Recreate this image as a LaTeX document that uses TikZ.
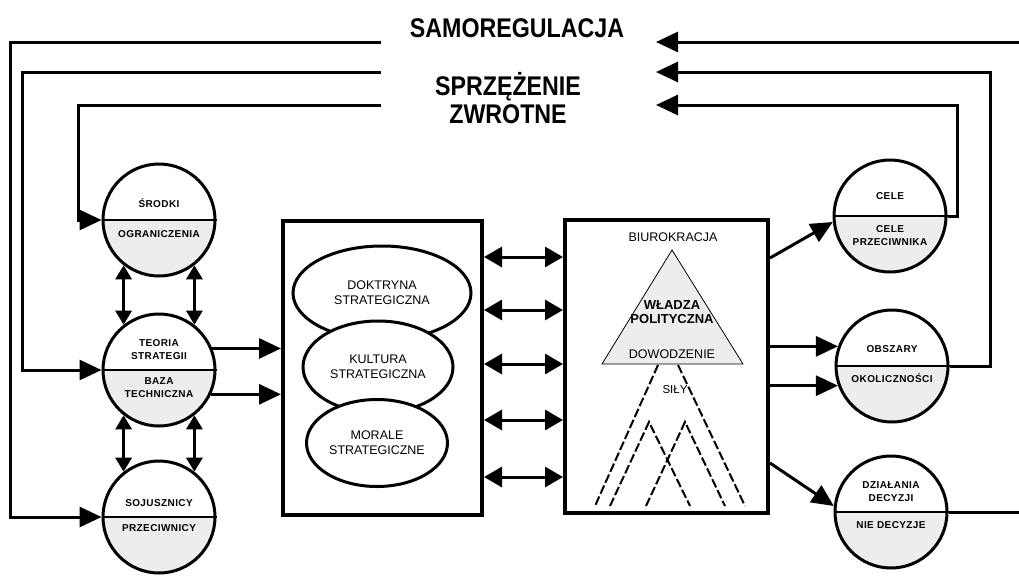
\documentclass[tikz,border=0pt]{standalone}
\usepackage{fontspec}
\setmainfont{Liberation Sans}
\newfontfamily\titlefont[FakeStretch=0.86]{Liberation Sans}
\newfontfamily\circfont[LetterSpace=4]{Liberation Sans}
\usetikzlibrary{arrows.meta,shapes.geometric,calc}
\begin{document}
\begin{tikzpicture}[x=1pt,y=-1pt,
  fbline/.style={line width=3pt},
  arr/.style={line width=3pt,-{Triangle[length=22pt,width=20pt]}},
  dbl/.style={line width=3pt,{Triangle[length=18pt,width=20pt]}-{Triangle[length=18pt,width=20pt]}},
  vdbl/.style={line width=3pt,{Triangle[length=14pt,width=16pt]}-{Triangle[length=14pt,width=16pt]}},
  circ/.style={circle,draw,line width=3pt,minimum size=112pt,inner sep=0pt},
  clabel/.style={font=\circfont\bfseries\fontsize{10}{13}\selectfont,align=center,inner sep=0pt},
  title/.style={font=\titlefont\bfseries\fontsize{27}{28}\selectfont,align=center,inner sep=0pt},
  bigbox/.style={draw,line width=4pt,inner sep=0pt},
  ell/.style={ellipse,draw,line width=3pt,fill=white,inner sep=0pt,align=center,font=\fontsize{12.5}{15}\selectfont},
  dsh/.style={line width=2pt,dash pattern=on 9pt off 3pt},
]
\useasboundingbox (0,0) rectangle (1019,576);

% titles
\node[title] (samo) at (517,28) {SAMOREGULACJA};
\node[title] (sprz) at (508,98) {SPRZĘŻENIE\\ZWROTNE};

% circles with lower grey half
\newcommand{\halfcirc}[4]{% name, x, y, radius
  \begin{scope}
    \clip (#2,#3) circle[radius=#4pt];
    \fill[gray!14] (#2-60,#3) rectangle (#2+60,#3+60);
  \end{scope}
  \node[circ] (#1) at (#2,#3) {};
  \draw[line width=2pt] (#1.west) -- (#1.east);
}
\halfcirc{srodki}{159}{220}{55}
\halfcirc{teoria}{159}{370}{55}
\halfcirc{sojus}{159}{517}{55}
\halfcirc{cele}{890}{216}{55}
\halfcirc{obsz}{892}{366}{55}
\halfcirc{dzial}{891}{512}{55}

\node[clabel] (srodkiT) at ($(srodki)+(0,-17)$) {ŚRODKI};
\node[clabel] (srodkiB) at ($(srodki)+(0,14)$) {OGRANICZENIA};
\node[clabel] (teoriaT) at ($(teoria)+(0,-20)$) {TEORIA\\STRATEGII};
\node[clabel] (teoriaB) at ($(teoria)+(0,18)$) {BAZA\\TECHNICZNA};
\node[clabel] (sojusT) at ($(sojus)+(0,-14)$) {SOJUSZNICY};
\node[clabel] (sojusB) at ($(sojus)+(0,11)$) {PRZECIWNICY};
\node[clabel] (celeT) at ($(cele)+(0,-20)$) {CELE};
\node[clabel] (celeB) at ($(cele)+(0,20)$) {CELE\\PRZECIWNIKA};
\node[clabel] (obszT) at ($(obsz)+(0,-17)$) {OBSZARY};
\node[clabel] (obszB) at ($(obsz)+(0,12)$) {OKOLICZNOŚCI};
\node[clabel] (dzialT) at ($(dzial)+(0,-20)$) {DZIAŁANIA\\DECYZJI};
\node[clabel] (dzialB) at ($(dzial)+(0,13)$) {NIE DECYZJE};

% middle box with ellipses
\node[bigbox,minimum width=199pt,minimum height=294pt] (mbox) at (382.5,368) {};
\node[ell,minimum width=178pt,minimum height=94pt] (dokt) at (382,293) {DOKTRYNA\\STRATEGICZNA};
\node[ell,minimum width=150pt,minimum height=92pt] (kult) at (378,367) {KULTURA\\STRATEGICZNA};
\node[ell,minimum width=141pt,minimum height=87pt] (mor) at (377,443) {MORALE\\STRATEGICZNE};

% right box
\node[bigbox,minimum width=203pt,minimum height=293pt] (rbox) at (666.5,366.5) {};
\node[font=\fontsize{12.5}{14}\selectfont,inner sep=0pt] (biur) at (673,237) {BIUROKRACJA};
\draw[fill=gray!14,line width=0.8pt] (672,250) -- (602,364) -- (743,364) -- cycle;
\node[font=\bfseries\fontsize{13}{14}\selectfont,align=center,inner sep=0pt] (wladza) at (672,312) {WŁADZA\\POLITYCZNA};
\node[font=\fontsize{12.5}{14}\selectfont,inner sep=0pt] (dowo) at (672,354) {DOWODZENIE};
\node[font=\fontsize{11.5}{14}\selectfont,inner sep=0pt] (sily) at (675,390) {SIŁY};
\draw[dsh] (658,365) -- (595,506);
\draw[dsh] (678,365) -- (745,506);
\draw[dsh] (610,506) -- (649,422) -- (690,506);
\draw[dsh] (646,506) -- (685,422) -- (725,506);

% vertical double arrows between left circles
\draw[vdbl] (srodki.-128) -- (srodki.-128 |- teoria.128);
\draw[vdbl] (srodki.-52) -- (srodki.-52 |- teoria.52);
\draw[vdbl] (teoria.-128) -- (teoria.-128 |- sojus.128);
\draw[vdbl] (teoria.-52) -- (teoria.-52 |- sojus.52);

% arrows from teoria to middle box
\draw[arr] (teoria.22) -- (mbox.west |- teoria.22);
\draw[arr] (teoria.-25) -- (mbox.west |- teoria.-25);

% double arrows between boxes
\foreach \yy in {257,310,364,420,477}{
  \draw[dbl] (mbox.east |- 0,\yy) -- (rbox.west |- 0,\yy);
}

% arrows from right box
\draw[arr] (rbox.east |- 0,258) -- (cele.186);
\draw[arr] (rbox.east |- obsz.160) -- (obsz.160);
\draw[arr] (rbox.east |- obsz.200) -- (obsz.200);
\draw[arr] (rbox.east |- 0,463) -- (dzial.174);

% feedback loops, left
\coordinate (la) at (381,42);
\coordinate (lb) at (381,72);
\coordinate (lc) at (381,105);
\draw[fbline,-{Triangle[length=22pt,width=20pt]}] (la) -- (10,42) |- (sojus.west);
\draw[fbline,-{Triangle[length=22pt,width=20pt]}] (lb) -- (22,72) |- (teoria.west);
\draw[fbline,-{Triangle[length=22pt,width=20pt]}] (lc) -- (78,105) |- (srodki.west);

% feedback loops, right
\coordinate (ra) at (656,42);
\coordinate (rb) at (656,72);
\coordinate (rc) at (656,105);
\coordinate (redge) at (1019,42);
\coordinate (dedge) at (1019,512);
\draw[arr] (redge) -- (ra);
\draw[arr] (obsz.east) -- (990,366) |- (rb);
\draw[arr] (cele.east) -- (957,216) |- (rc);
\draw[fbline] (dzial.east) -- (dedge);
\end{tikzpicture}
\end{document}
